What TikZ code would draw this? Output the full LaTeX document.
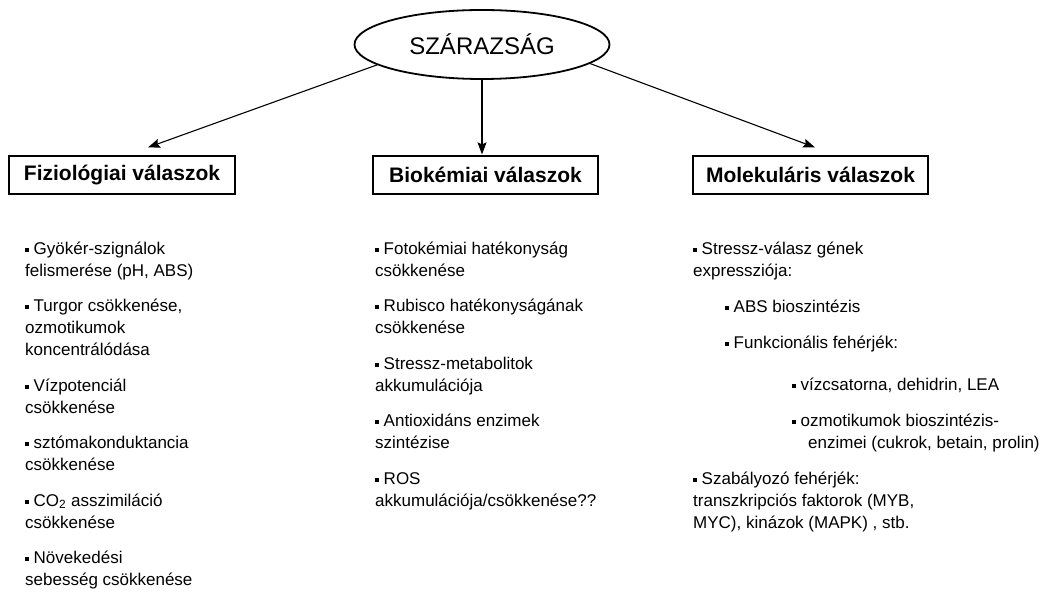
\documentclass[tikz,border=0pt]{standalone}
\usepackage{fontspec}
\setmainfont{Liberation Sans}
\usetikzlibrary{arrows.meta,shapes.geometric}
\newcommand{\sq}{\rule[2.5pt]{3.8pt}{3.8pt}}

\begin{document}
\begin{tikzpicture}[x=1pt,y=1pt,>=Stealth]
\tikzset{
  topic/.style={draw,ellipse,line width=1.8pt,minimum width=255pt,minimum height=69pt,inner sep=0pt,font=\fontsize{24}{28}\selectfont},
  hdr/.style={draw,line width=1.2pt,minimum height=38pt,inner sep=0pt,font=\fontsize{21}{25}\selectfont\bfseries},
  lst/.style={anchor=north west,inner sep=0pt,align=left,font=\fontsize{17}{22}\selectfont},
  arr/.style={-{Stealth[length=12pt,width=9pt,inset=2pt]},line width=1.1pt}
}
\useasboundingbox (0,0) rectangle (1044,592);
\node[topic] (dry) at (482,547.5) {SZÁRAZSÁG};

\node[hdr,minimum width=226pt] (fiz) at (122,417) {Fiziológiai válaszok};
\node[hdr,minimum width=225pt] (bio) at (485.5,417) {Biokémiai válaszok};
\node[hdr,minimum width=235pt] (mol) at (810.5,417) {Molekuláris válaszok};

\draw[arr] (dry.191) -- ([xshift=26pt,yshift=8pt]fiz.north);
\draw[arr] (dry.south) -- ([xshift=-3.5pt,yshift=1pt]bio.north);
\draw[arr] (dry.350) -- ([xshift=4.5pt,yshift=8pt]mol.north);

% lists under the three headers
\node[lst] (fizl) at (25,353.4) {\strut\sq\ Gyökér-szignálok\\felismerése (pH, ABS)\\[13.5pt]
\sq\ Turgor csökkenése,\\ozmotikumok\\koncentrálódása\\[13.5pt]
\sq\ Vízpotenciál\\csökkenése\\[13.5pt]
\sq\ sztómakonduktancia\\csökkenése\\[13.5pt]
\sq\ CO\textsubscript{2} asszimiláció\\csökkenése\\[13.5pt]
\sq\ Növekedési\\sebesség csökkenése};

\node[lst] (biol) at (375,353.4) {\strut\sq\ Fotokémiai hatékonyság\\csökkenése\\[13.5pt]
\sq\ Rubisco hatékonyságának\\csökkenése\\[13.5pt]
\sq\ Stressz-metabolitok\\akkumulációja\\[13.5pt]
\sq\ Antioxidáns enzimek\\szintézise\\[13.5pt]
\sq\ ROS\\akkumulációja/csökkenése??};

\node[lst] (moll) at (693,353.4) {\strut\sq\ Stressz-válasz gének\\expressziója:\\[14pt]
\hspace*{32pt}\sq\ ABS bioszintézis\\[14pt]
\hspace*{32pt}\sq\ Funkcionális fehérjék:\\[20pt]
\hspace*{99pt}\sq\ vízcsatorna, dehidrin, LEA\\[14pt]
\hspace*{99pt}\sq\ ozmotikumok bioszintézis-\\
\hspace*{115pt}enzimei (cukrok, betain, prolin)\\[14pt]
\sq\ Szabályozó fehérjék:\\transzkripciós faktorok (MYB,\\MYC), kinázok (MAPK) , stb.};
\end{tikzpicture}
\end{document}
